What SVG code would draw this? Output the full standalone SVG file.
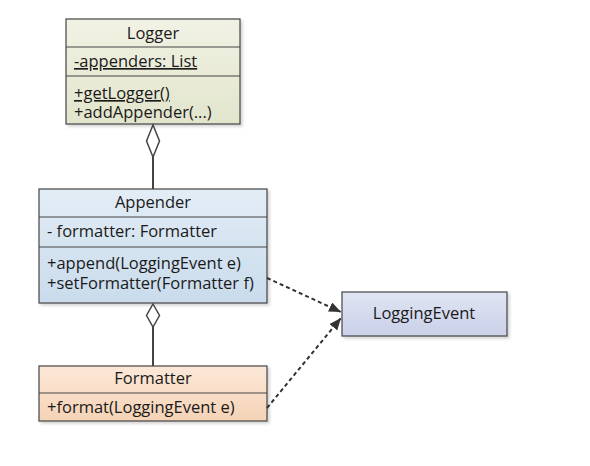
<svg xmlns="http://www.w3.org/2000/svg" width="590" height="466" viewBox="0 0 590 466">
<defs>
<linearGradient id="gLogger" x1="0" y1="0" x2="0" y2="1"><stop offset="0" stop-color="#f1f2e4"/><stop offset="1" stop-color="#e2e5cc"/></linearGradient>
<linearGradient id="gApp" x1="0" y1="0" x2="0" y2="1"><stop offset="0" stop-color="#e3edf6"/><stop offset="1" stop-color="#c9dbec"/></linearGradient>
<linearGradient id="gFmt" x1="0" y1="0" x2="0" y2="1"><stop offset="0" stop-color="#fce8d8"/><stop offset="1" stop-color="#f5d3b6"/></linearGradient>
<linearGradient id="gEvt" x1="0" y1="0" x2="0" y2="1"><stop offset="0" stop-color="#e1e5f3"/><stop offset="1" stop-color="#c9d0e8"/></linearGradient>
<marker id="arrow" viewBox="0 0 12 10" refX="12" refY="5" markerWidth="12" markerHeight="10" markerUnits="userSpaceOnUse" orient="auto">
<path d="M0,0 L12,5 L0,10 z" fill="#333"/>
</marker>
<filter id="sh" x="-10%" y="-10%" width="130%" height="130%"><feDropShadow dx="2" dy="2" stdDeviation="1.5" flood-color="#000" flood-opacity="0.18"/></filter>
</defs>
<style>
.box{stroke:#444;stroke-width:1.2}
.sep{stroke:#444;stroke-width:1}
text{font-family:"Open Sans","Noto Sans","Liberation Sans",sans-serif;font-size:16.5px;fill:#1a1a1a}
.c{text-anchor:middle}
.u{text-decoration:underline}
.line{stroke:#444;stroke-width:2;fill:none}
.dash{stroke:#333;stroke-width:2;fill:none;stroke-dasharray:4,3}
.dia{fill:#fff;stroke:#444;stroke-width:1.5}
</style>
<rect width="590" height="466" fill="#fff"/>
<g id="Logger">
<rect class="box" x="66" y="19" width="174" height="105" fill="url(#gLogger)" filter="url(#sh)"/>
<line class="sep" x1="66" y1="47" x2="240" y2="47"/>
<line class="sep" x1="66" y1="76" x2="240" y2="76"/>
<text class="c" x="153" y="39">Logger</text>
<text class="u" x="74" y="67">-appenders: List</text>
<text x="74" y="99"><tspan class="u">+getLogger()</tspan><tspan x="74" y="118">+addAppender(...)</tspan></text>
</g>
<g id="Appender">
<rect class="box" x="39" y="189" width="228" height="114" fill="url(#gApp)" filter="url(#sh)"/>
<line class="sep" x1="39" y1="217" x2="267" y2="217"/>
<line class="sep" x1="39" y1="247" x2="267" y2="247"/>
<text class="c" x="153" y="208">Appender</text>
<text x="47" y="237">- formatter: Formatter</text>
<text x="47" y="269">+append(LoggingEvent e)<tspan x="47" y="289">+setFormatter(Formatter f)</tspan></text>
</g>
<g id="Formatter">
<rect class="box" x="39" y="366" width="228" height="55" fill="url(#gFmt)" filter="url(#sh)"/>
<line class="sep" x1="39" y1="393" x2="267" y2="393"/>
<text class="c" x="153" y="384">Formatter</text>
<text x="47" y="413">+format(LoggingEvent e)</text>
</g>
<g id="LoggingEvent">
<rect class="box" x="342" y="292" width="165" height="44" fill="url(#gEvt)" filter="url(#sh)"/>
<text class="c" x="424" y="319">LoggingEvent</text>
</g>
<g id="connectors">
<line class="line" x1="153" y1="157" x2="153" y2="189"/>
<path class="dia" d="M153,125 L159.5,141 L153,157 L146.5,141 Z"/>
<line class="line" x1="153" y1="327" x2="153" y2="366"/>
<path class="dia" d="M153,304 L159.5,315.5 L153,327 L146.5,315.5 Z"/>
<line class="dash" x1="267" y1="278" x2="341" y2="312" marker-end="url(#arrow)"/>
<line class="dash" x1="267" y1="408" x2="341" y2="318" marker-end="url(#arrow)"/>
</g>
</svg>
